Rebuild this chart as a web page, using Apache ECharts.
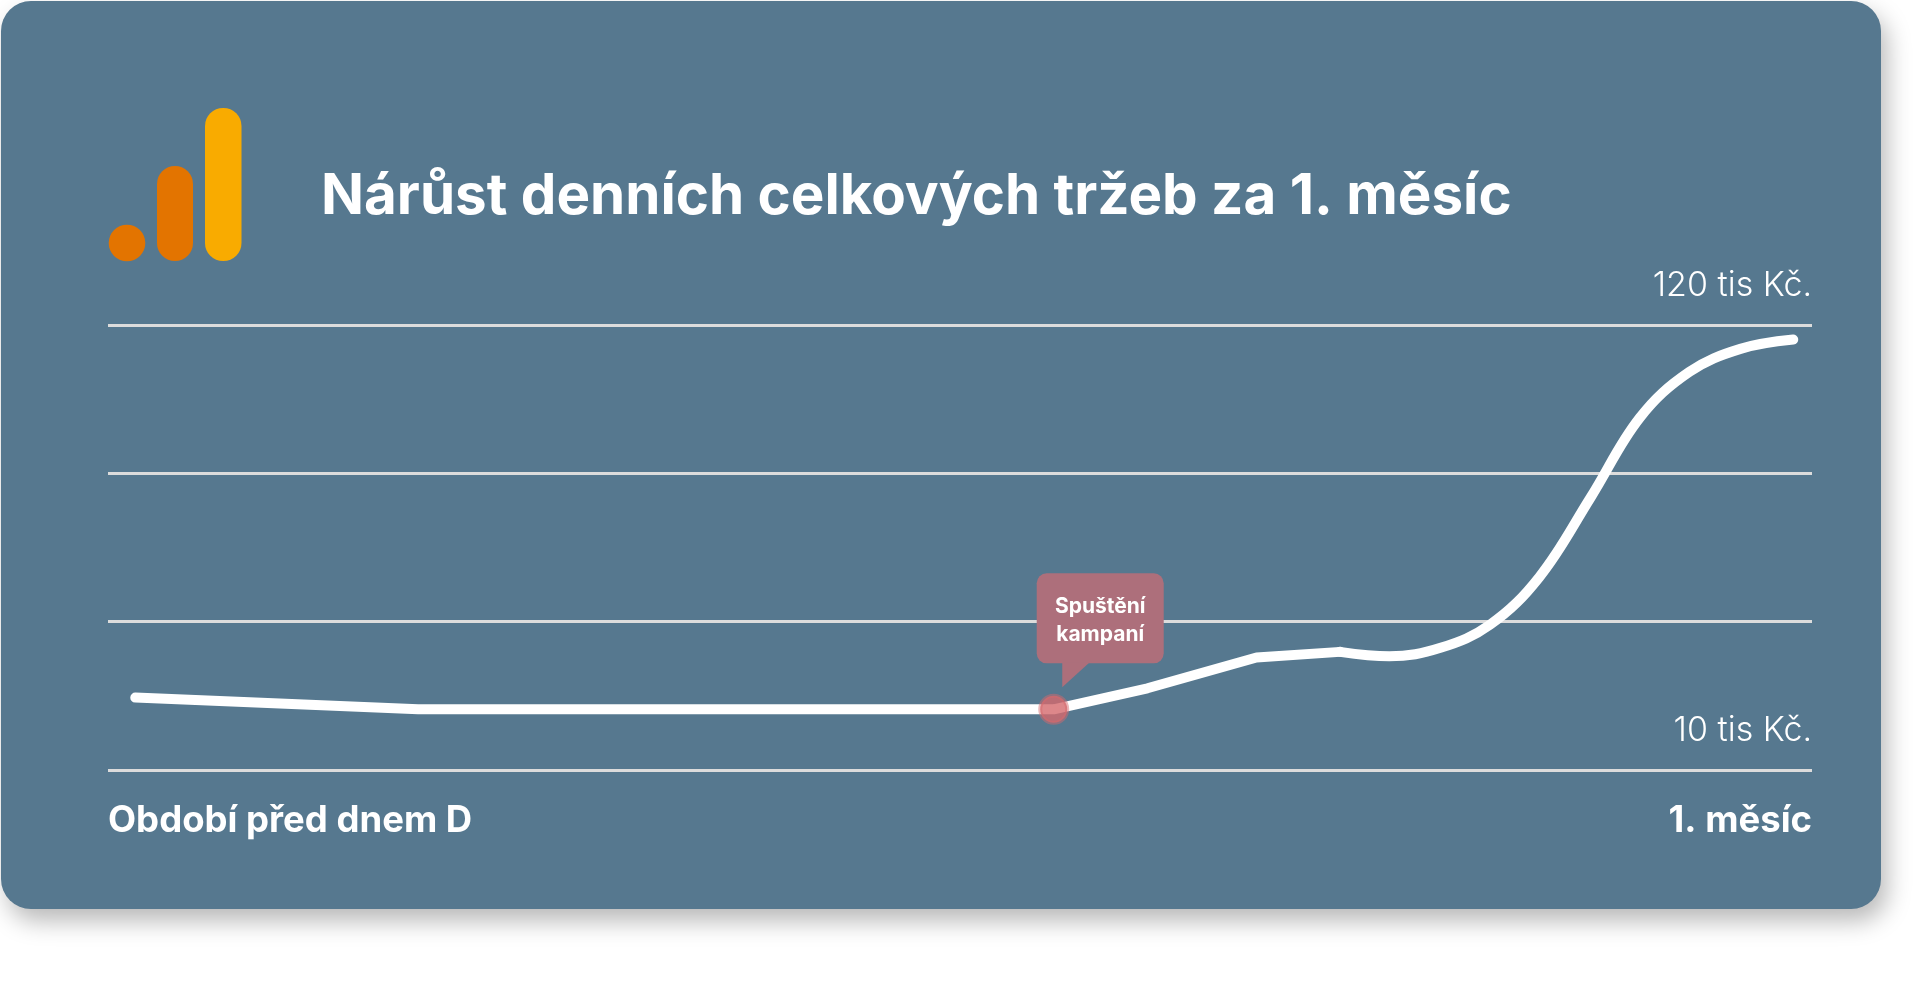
<!DOCTYPE html>
<html>
<head>
<meta charset="utf-8">
<script src="https://cdn.jsdelivr.net/npm/echarts@6/dist/echarts.min.js"></script>
<style>
  html, body { margin: 0; padding: 0; background: #ffffff; }
  #chart { width: 1920px; height: 991px; }
</style>
</head>
<body>
<div id="chart"></div>
<script>
// ---- data ----
const chartTitle = 'Nárůst denních celkových tržeb za 1. měsíc';
// x: relative position in the period (0 = start, 100 = end of 1st month); y: tis Kč
const beforeX = [1.6, 18.2, 55.5, 61.0, 67.4, 72.3];
const beforeY = [27.9, 25.0, 25.0, 30.2, 37.8, 39.2];
const afterX = [72.3, 75.2, 78.2, 81.1, 84.0, 87.0, 89.9, 92.8, 95.8, 98.9];
const afterY = [39.2, 38.1, 40.2, 45.9, 57.7, 77.3, 97.1, 108.4, 114.1, 116.4];
const campaignX = 55.5;
const campaignY = 25.0;
const campaignLabel = 'Spuštění\nkampaní';
const yTickLabels = ['10 tis Kč.', '', '', '120 tis Kč.'];
const xEndLabels = ['Období před dnem D', '1. měsíc'];

const FONT = 'Inter, "Open Sans", sans-serif';
const chart = echarts.init(document.getElementById('chart'), null, { renderer: 'canvas' });

const option = {
  backgroundColor: '#ffffff',
  animation: false,
  title: {
    text: chartTitle,
    left: 321,
    top: 169,
    padding: 0,
    textStyle: { color: '#ffffff', fontSize: 56.5, fontWeight: 700, fontFamily: FONT }
  },
  grid: { left: 108, right: 108, top: 325, bottom: 221 },
  xAxis: {
    type: 'value', min: 0, max: 100, interval: 100,
    axisLine: { show: false }, axisTick: { show: false }, splitLine: { show: false },
    axisLabel: {
      formatter: v => v === 0 ? xEndLabels[0] : (v === 100 ? xEndLabels[1] : ''),
      alignMinLabel: 'left', alignMaxLabel: 'right',
      margin: 33, color: '#ffffff', fontSize: 36.5, fontWeight: 700, fontFamily: FONT
    }
  },
  yAxis: [
    {
      type: 'value', min: 0, max: 3, interval: 1, position: 'right',
      axisLine: { show: false }, axisTick: { show: false },
      splitLine: { show: true, lineStyle: { color: '#dcdcdc', width: 3 } },
      axisLabel: {
        inside: true, margin: 0,
        formatter: v => yTickLabels[v] || '',
        verticalAlign: 'bottom', padding: [0, 0, 22, 0],
        color: '#ffffff', fontSize: 34, fontWeight: 300, fontFamily: FONT
      }
    },
    { type: 'value', min: 10, max: 120, show: false }
  ],
  series: [
    {
      type: 'line', yAxisIndex: 1, smooth: false, symbol: 'none',
      lineStyle: { color: '#ffffff', width: 10, cap: 'round', join: 'round' },
      data: beforeX.map((x, i) => [x, beforeY[i]]), z: 3
    },
    {
      type: 'line', yAxisIndex: 1, smooth: 0.38, symbol: 'none',
      lineStyle: { color: '#ffffff', width: 10, cap: 'round', join: 'round' },
      data: afterX.map((x, i) => [x, afterY[i]]), z: 3
    },
    {
      type: 'scatter', yAxisIndex: 1, symbol: 'circle', symbolSize: 27,
      itemStyle: { color: '#d5696d', borderColor: 'rgba(213,105,109,0.6)', borderWidth: 4 },
      data: [[campaignX, campaignY]], z: 5
    }
  ]
};
chart.setOption(option);

const p = chart.convertToPixel({ xAxisIndex: 0, yAxisIndex: 1 }, [campaignX, campaignY]);
const px = p[0], py = p[1];

chart.setOption({
  graphic: [
    {
      type: 'rect', z: -100, silent: true,
      shape: { x: 1, y: 1, width: 1880, height: 908, r: 30 },
      style: { fill: '#56788f', shadowColor: 'rgba(0,0,0,0.28)', shadowBlur: 24, shadowOffsetX: 6, shadowOffsetY: 12 }
    },
    { type: 'circle', z: 10, shape: { cx: 127, cy: 243, r: 18.3 }, style: { fill: '#e37400' } },
    { type: 'rect', z: 10, shape: { x: 157, y: 166, width: 36, height: 95, r: 18 }, style: { fill: '#e37400' } },
    { type: 'rect', z: 10, shape: { x: 205, y: 108, width: 36.5, height: 153, r: 18 }, style: { fill: '#f9ab00' } },
    {
      type: 'rect', z: 50,
      shape: { x: px - 17, y: py - 136, width: 127, height: 90, r: 10 },
      style: { fill: '#ad6f7b' }
    },
    {
      type: 'polygon', z: 50,
      shape: { points: [[px + 8.5, py - 47], [px + 36, py - 47], [px + 8.5, py - 22]] },
      style: { fill: '#ad6f7b' }
    },
    {
      type: 'text', z: 51,
      style: {
        text: campaignLabel, x: px + 46.5, y: py - 89,
        textAlign: 'center', textVerticalAlign: 'middle',
        fill: '#ffffff', font: '700 21px ' + FONT, lineHeight: 28
      }
    }
  ]
});
</script>
</body>
</html>
